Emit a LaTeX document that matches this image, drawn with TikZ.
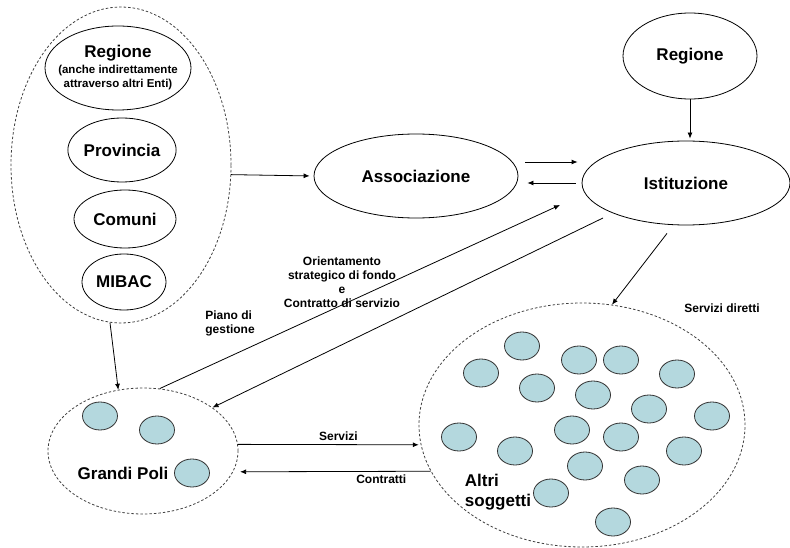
\documentclass[tikz,border=0pt]{standalone}
\usepackage{fontspec}
\setmainfont{Liberation Sans}
\usetikzlibrary{shapes.geometric,arrows.meta}
\definecolor{polofill}{RGB}{180,216,222}
\begin{document}
\begin{tikzpicture}[x=1pt, y=-1pt, line width=0.8pt,
	main/.style = {draw, ellipse, inner sep=0pt, font=\bfseries\fontsize{17}{20}\selectfont},
	grp/.style = {draw=black!75, ellipse, dash pattern=on 2.5pt off 2pt, inner sep=0pt},
	polo/.style = {draw=black!80, fill=polofill, ellipse, minimum width=35pt, minimum height=28pt, inner sep=0pt},
	lbl/.style = {font=\bfseries\fontsize{12}{14}\selectfont, align=center},
	arr/.style = {-{Latex[length=6pt,width=5pt]}}]
	\useasboundingbox (0,0) rectangle (790,548);
		\node[grp, minimum width=220pt, minimum height=316pt] (enti) at (121,165) {};
		\node[main, minimum width=146pt, minimum height=84pt, inner xsep=-25pt, inner ysep=-10pt, align=center] (reg) at (118,68) {Regione\\[-4pt]\fontsize{11.5}{14}\selectfont(anche indirettamente\\[-6pt]\fontsize{11.5}{14}\selectfont attraverso altri Enti)};
		\node[main, minimum width=108pt, minimum height=64pt] (prov) at (122,150) {Provincia};
		\node[main, minimum width=102pt, minimum height=58pt] (com) at (125,219) {Comuni};
		\node[main, minimum width=84pt, minimum height=56pt] (mibac) at (124,282) {MIBAC};
		\node[main, minimum width=204pt, minimum height=84pt] (asso) at (416,176) {Associazione};
		\node[main, minimum width=208pt, minimum height=84pt] (ist) at (686,183) {Istituzione};
		\node[main, minimum width=134pt, minimum height=86pt] (reg2) at (690,56) {Regione};
		\node[grp, minimum width=190pt, minimum height=126pt] (poli) at (143,451) {};
		\node[grp, minimum width=326pt, minimum height=244pt] (altri) at (582,425) {};
		\node[polo] (p1) at (100,416) {};
		\node[polo] (p2) at (157,430) {};
		\node[polo] (p3) at (192,473) {};
		\node[polo] (a1) at (522,346) {};
		\node[polo] (a2) at (481,373) {};
		\node[polo] (a3) at (579,360) {};
		\node[polo] (a4) at (621,360) {};
		\node[polo] (a5) at (677,374) {};
		\node[polo] (a6) at (537,388) {};
		\node[polo] (a7) at (593,395) {};
		\node[polo] (a8) at (649,409) {};
		\node[polo] (a9) at (712,416) {};
		\node[polo] (a10) at (459,437) {};
		\node[polo] (a11) at (572,430) {};
		\node[polo] (a12) at (621,437) {};
		\node[polo] (a13) at (515,451) {};
		\node[polo] (a14) at (684,451) {};
		\node[polo] (a15) at (585,466) {};
		\node[polo] (a16) at (642,480) {};
		\node[polo] (a17) at (551,493) {};
		\node[polo] (a18) at (613,522) {};
		\node[font=\bfseries\fontsize{17}{20}\selectfont] (gp) at (123,473) {Grandi Poli};
		\node[font=\bfseries\fontsize{17}{20}\selectfont, align=left] (as) at (498,492) {Altri\\soggetti};
		\node[lbl] (sd) at (722,308) {Servizi diretti};
		\node[lbl, align=left] (pg) at (230,323) {Piano di\\gestione};
		\node[lbl] (os) at (342,282) {Orientamento\\strategico di fondo\\e\\Contratto di servizio};
		\coordinate (c1) at (560,205);
		\coordinate (c2) at (603,218);
		\path[arr]
		(enti.-5) edge[shorten >=4pt] (asso.west)
		([yshift=14pt]asso.east) edge[shorten <=7pt, shorten >=4pt] ([yshift=21pt]ist.west)
		(ist.west) edge[shorten <=6pt, shorten >=9pt] ([yshift=-7pt]asso.east)
		(reg2.south) edge[shorten >=2pt] (reg2.south |- ist.north)
		(poli.75) edge (c1) (c2) edge (poli.32)
		([xshift=-19pt,yshift=-8pt]ist.south) edge (altri.76)
		(enti.-94) edge (poli.112)
		(poli.4) edge[shorten >=2pt] node[lbl, above, pos=0.55] (serv) {Servizi} (altri.-173)
		(altri.-163) edge[shorten >=7pt] node[lbl, below, pos=0.25] (contr) {Contratti} (poli.-13);
	\end{tikzpicture}
\end{document}
